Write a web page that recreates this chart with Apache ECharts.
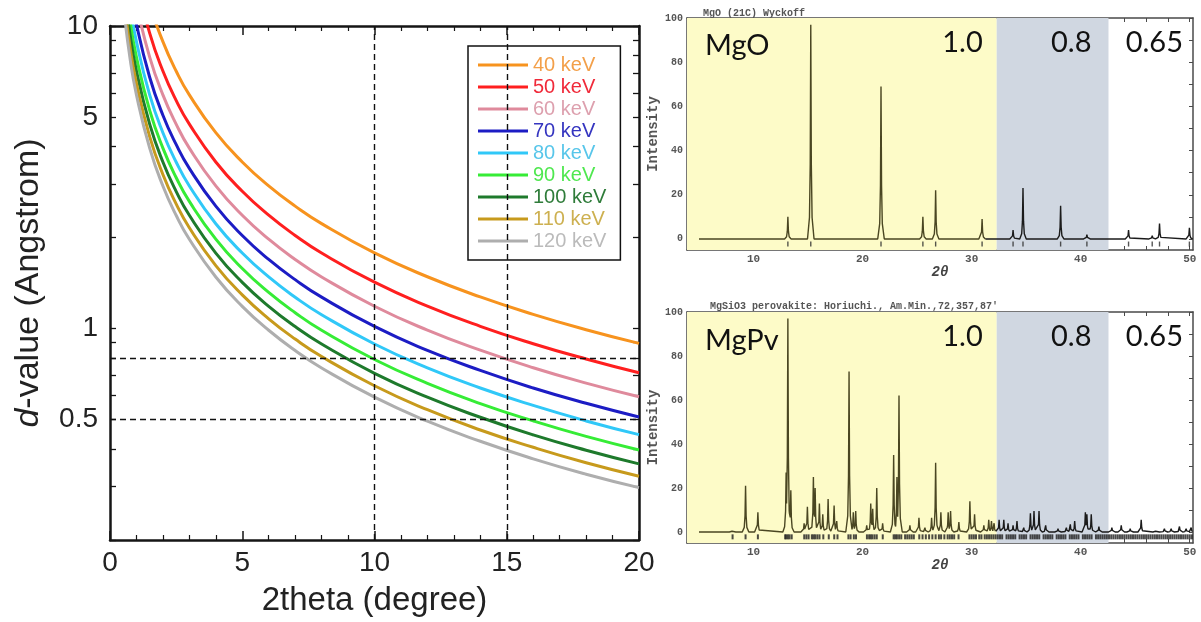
<!DOCTYPE html>
<html>
<head>
<meta charset="utf-8">
<script src="https://cdn.jsdelivr.net/npm/echarts@6/dist/echarts.min.js"></script>
<style>
  html, body { margin: 0; padding: 0; background: #ffffff; }
  #chart { width: 1201px; height: 622px; }
</style>
</head>
<body>
<div id="chart"></div>
<script>
// ---- Left panel: d-spacing vs 2theta for several beam energies ----
const twoTheta = [0.5, 0.75, 1, 1.5, 2, 2.5, 3, 4, 5, 6, 7, 8, 10, 12, 14, 16, 18, 20];
const energies = ['40 keV', '50 keV', '60 keV', '70 keV', '80 keV', '90 keV', '100 keV', '110 keV', '120 keV'];
const d40  = [35.5, 23.7, 17.76, 11.84, 8.88, 7.10, 5.92, 4.44, 3.553, 2.961, 2.539, 2.222, 1.778, 1.483, 1.272, 1.114, 0.991, 0.893];
const d50  = [28.4, 18.94, 14.21, 9.47, 7.10, 5.68, 4.74, 3.553, 2.843, 2.369, 2.031, 1.777, 1.423, 1.186, 1.017, 0.891, 0.793, 0.714];
const d60  = [23.7, 15.79, 11.84, 7.89, 5.92, 4.74, 3.947, 2.961, 2.369, 1.974, 1.692, 1.481, 1.185, 0.988, 0.848, 0.742, 0.660, 0.595];
const d70  = [20.3, 13.53, 10.15, 6.77, 5.07, 4.06, 3.383, 2.538, 2.030, 1.692, 1.451, 1.270, 1.016, 0.847, 0.727, 0.636, 0.566, 0.510];
const d80  = [17.76, 11.84, 8.88, 5.92, 4.44, 3.552, 2.960, 2.220, 1.777, 1.481, 1.269, 1.111, 0.889, 0.741, 0.636, 0.557, 0.495, 0.446];
const d90  = [15.79, 10.52, 7.89, 5.26, 3.947, 3.157, 2.631, 1.974, 1.579, 1.316, 1.128, 0.987, 0.790, 0.659, 0.565, 0.495, 0.440, 0.397];
const d100 = [14.21, 9.47, 7.10, 4.74, 3.552, 2.842, 2.368, 1.776, 1.421, 1.184, 1.015, 0.889, 0.711, 0.593, 0.509, 0.445, 0.396, 0.357];
const d110 = [12.92, 8.61, 6.46, 4.31, 3.229, 2.583, 2.153, 1.615, 1.292, 1.077, 0.923, 0.808, 0.647, 0.539, 0.462, 0.405, 0.360, 0.325];
const d120 = [11.84, 7.89, 5.92, 3.947, 2.960, 2.368, 1.973, 1.480, 1.184, 0.987, 0.846, 0.741, 0.593, 0.494, 0.424, 0.371, 0.330, 0.298];
const dSeries = [d40, d50, d60, d70, d80, d90, d100, d110, d120];
const lineColors = ['#F7931E', '#FF1F1F', '#DF8A9C', '#1C1CC4', '#30C8F8', '#36EC36', '#1E7A2C', '#C79A1C', '#AEAEAE'];
const textColors = ['#F3A04A', '#F02A3A', '#DDA0AE', '#3535C0', '#58C6EA', '#4FE84F', '#2F7C3A', '#CDB050', '#BBBBBB'];
const guideAngles = [10, 15];
const guideD = [0.8, 0.5];
const dLabels = [0.5, 1, 5, 10];
const dTicks = [0.2, 0.3, 0.4, 0.5, 0.6, 0.7, 0.8, 0.9, 1, 2, 3, 4, 5, 6, 7, 8, 9, 10];

// ---- Right panels: powder patterns ----
const mgoPos = [13.15, 15.25, 21.69, 25.53, 26.7, 30.96, 33.8, 34.71, 38.16, 40.57, 44.39, 46.56, 47.23, 49.97];
const mgoInt = [10, 97, 69, 10, 22, 9, 4, 23, 15, 2, 4, 1.5, 7, 5];

const pvPos = [8.08, 9.27, 10.40, 12.99, 13.15, 13.42, 14.64, 14.94, 15.49, 15.65, 16.04, 16.35, 16.84, 17.39, 17.63,
  18.76, 19.15, 19.37, 20.38, 20.75, 20.93, 21.30, 21.84, 22.85, 23.15, 23.34, 24.34, 25.17, 25.72, 26.33, 26.7,
  27.18, 27.85, 28.07, 28.83, 29.84, 30.27, 31.12, 31.57, 31.82, 32.06, 32.52, 32.95, 33.34, 33.8, 34.16, 34.78,
  35.39, 35.72, 36.18, 36.79, 37.92, 38.69, 39.05, 39.45, 40.43, 40.57, 40.97, 41.67, 42.86, 43.72, 44.54, 45.55,
  46.92, 47.68, 48.3, 49.06, 49.67, 50.13];
const pvInt = [1, 21, 9, 27, 97, 19, 4, 11.5, 25, 20, 13, 8, 15, 12, 5,
  73, 9, 9.5, 3, 13, 10.5, 20, 4, 35, 25, 62, 3, 6.5, 2, 6.5, 31.5,
  9, 9, 9.5, 4.5, 14, 8, 3, 5.5, 5, 4, 5.5, 5.5, 4, 3, 5, 2,
  8.5, 9.5, 9.5, 3, 1.5, 2, 3.5, 5, 9, 8, 8, 2.5, 2, 3, 1.5, 5.5,
  1, 1.5, 1.5, 2.5, 1.5, 2];
const pvRefl = [8.08, 9.27, 10.4, 12.9, 13.0, 13.15, 13.3, 13.5, 14.65, 14.85, 15.05, 15.35, 15.5, 15.65, 15.85, 16.05,
  16.4, 16.9, 17.4, 17.7, 18.7, 18.9, 19.2, 19.4, 20.4, 20.6, 20.75, 20.9, 21.1, 21.3, 21.85, 22.85, 23.0, 23.15,
  23.35, 23.55, 23.9, 24.1, 24.3, 24.5, 24.7, 25.2, 25.5, 25.8, 26.1, 26.4, 26.7, 27.0, 27.2, 27.5, 27.8, 28.0,
  28.2, 28.4, 28.8, 29.8, 30.0, 30.2, 30.4, 30.7, 30.9, 31.2, 31.4, 31.6, 31.8, 32.0, 32.2,
  32.4, 32.6, 32.8, 33.2, 33.4, 33.6, 33.8, 34.0, 34.4, 34.6, 34.8, 35.0, 35.4, 35.6, 35.8, 36.0, 36.2, 36.6,
  36.8, 37.0, 37.2, 37.4, 37.8, 38.0, 38.2, 38.4, 38.6, 39.0, 39.2, 39.4, 39.6, 39.8, 40.2, 40.4, 40.6, 40.8,
  41.0, 41.4, 41.6, 41.8, 42.0, 42.2, 42.4, 42.6, 42.8, 43.0, 43.2, 43.4, 43.6, 43.8, 44.0, 44.2, 44.4, 44.6,
  44.8, 45.0, 45.2, 45.4, 45.6, 45.8, 46.0, 46.2, 46.4, 46.6, 46.8, 47.0, 47.2, 47.4, 47.6, 47.8, 48.0, 48.2,
  48.4, 48.6, 48.8, 49.0, 49.2, 49.4, 49.6, 49.8, 50.0, 50.2];

const regionEdges = [3.9, 32.3, 42.55, 50.3];
const regionLabels = ['1.0', '0.8', '0.65'];
const regionColors = ['#FDFBC8', '#D0D7E1', 'rgba(255,255,255,0)'];
const intensityLabels = [0, 20, 40, 60, 80, 100];
const intensityTicks = [0, 10, 20, 30, 40, 50, 60, 70, 80, 90, 100];
const angleLabels = [10, 20, 30, 40, 50];
const angleTicks = [6, 8, 10, 12, 14, 16, 18, 20, 22, 24, 26, 28, 30, 32, 34, 36, 38, 40, 42, 44, 46, 48, 50];
const scanRange = [5.0, 50.3];

// Peak outline: sharp needle with a short foot (half-profile offsets, relative heights)
const peakHalf = [[0, 1], [0.05, 0.35], [0.12, 0.1], [0.3, 0]];
function peakLevel(dx, h) {
  dx = Math.abs(dx);
  for (let k = 0; k < peakHalf.length - 1; k++) {
    const a = peakHalf[k], b = peakHalf[k + 1];
    if (dx <= b[0]) return h * (a[1] + (b[1] - a[1]) * (dx - a[0]) / (b[0] - a[0]));
  }
  return 0;
}
function buildProfile(pos, inten, start, end) {
  const xs = [start, end];
  pos.forEach(p => peakHalf.forEach(s => { xs.push(p - s[0]); xs.push(p + s[0]); }));
  const uniq = Array.from(new Set(xs.map(x => +x.toFixed(3))))
    .filter(x => x >= start && x <= end).sort((a, b) => a - b);
  return uniq.map(x => {
    let y = 0;
    pos.forEach((p, i) => { y = Math.max(y, peakLevel(x - p, inten[i])); });
    return [x, +y.toFixed(3)];
  });
}

const BLACK = '#151515';
const MONO = "'Liberation Mono', 'DejaVu Sans Mono', monospace";
const SANS = "'Liberation Sans', Arial, sans-serif";
const CAPTION = "Lato, 'Open Sans', sans-serif";

function leftXAxis(pos, showLabel) {
  return {
    type: 'value', gridIndex: 0, position: pos, min: 0, max: 20, interval: 5,
    name: showLabel ? '2theta (degree)' : '', nameLocation: 'middle', nameGap: 44,
    nameTextStyle: { fontFamily: SANS, fontSize: 33, color: '#222' },
    axisLine: { show: true, onZero: false, lineStyle: { color: BLACK, width: 2.5 } },
    axisTick: { show: true, inside: true, length: 9, lineStyle: { color: BLACK, width: 1.5 } },
    minorTick: { show: true, splitNumber: 5, length: 5, lineStyle: { color: BLACK, width: 1.2 } },
    axisLabel: { show: showLabel, fontFamily: SANS, fontSize: 28, color: '#222', margin: 9 },
    splitLine: { show: false }, minorSplitLine: { show: false }
  };
}
function leftYAxis(pos, showLabel) {
  return {
    type: 'log', logBase: 10, gridIndex: 0, position: pos, min: 0.2, max: 10,
    name: showLabel ? '{i|d}-value (Angstrom)' : '', nameLocation: 'middle', nameGap: 64,
    nameTextStyle: { fontFamily: SANS, fontSize: 34, color: '#222',
      rich: { i: { fontFamily: SANS, fontSize: 34, fontStyle: 'italic', color: '#222' } } },
    axisLine: { show: true, onZero: false, lineStyle: { color: BLACK, width: 2.5 } },
    axisTick: { show: true, inside: true, length: 6, customValues: dTicks, lineStyle: { color: BLACK, width: 1.3 } },
    axisLabel: { show: showLabel, customValues: dLabels, fontFamily: SANS, fontSize: 28, color: '#222', margin: 12,
      formatter: v => String(+(+v).toPrecision(3)) },
    splitLine: { show: false }
  };
}
function patXAxis(grid, pos, showLabel) {
  return {
    type: 'value', gridIndex: grid, position: pos, min: regionEdges[0], max: regionEdges[3],
    name: showLabel ? '2θ' : '', nameLocation: 'middle', nameGap: 13,
    nameTextStyle: { fontFamily: MONO, fontSize: 14, fontStyle: 'italic', fontWeight: 'bold', color: '#444' },
    axisLine: { show: true, onZero: false, lineStyle: { color: '#4a4a4a', width: 1.5 } },
    axisTick: { show: true, inside: true, length: 4, customValues: angleTicks, lineStyle: { color: '#4a4a4a', width: 1 } },
    axisLabel: { show: showLabel, customValues: angleLabels, fontFamily: MONO, fontSize: 11, fontWeight: 'bold', color: '#555', margin: 4 },
    splitLine: { show: false }
  };
}
function patYAxis(grid, pos, showLabel) {
  return {
    type: 'value', gridIndex: grid, position: pos, min: -5, max: 100,
    name: showLabel ? 'Intensity' : '', nameLocation: 'middle', nameGap: 27,
    nameTextStyle: { fontFamily: MONO, fontSize: 14, fontWeight: 'bold', color: '#555' },
    axisLine: { show: true, onZero: false, lineStyle: { color: '#4a4a4a', width: 1.5 } },
    axisTick: { show: true, inside: true, length: 4, customValues: intensityTicks, lineStyle: { color: '#4a4a4a', width: 1 } },
    axisLabel: { show: showLabel, customValues: intensityLabels, fontFamily: MONO, fontSize: 10, fontWeight: 'bold', color: '#555', margin: 4 },
    splitLine: { show: false }
  };
}
function regionAreas() {
  const insets = [14, 17, 10];
  return regionLabels.map((lab, i) => [
    { name: lab, xAxis: regionEdges[i], itemStyle: { color: regionColors[i] },
      label: { show: true, position: 'insideTopRight', distance: 0, offset: [-insets[i], 10],
        fontFamily: CAPTION, fontSize: 29, color: '#111' } },
    { xAxis: regionEdges[i + 1] }
  ]);
}
// One pattern drawn as two pieces: olive inside the yellow band, near-black beyond it
function patternSeries(name, axisIdx, pos, inten) {
  const split = regionEdges[1];
  const full = buildProfile(pos, inten, scanRange[0], scanRange[1]);
  const left = full.filter(p => p[0] <= split);
  const right = full.filter(p => p[0] >= split);
  if (right.length && right[0][0] > split) right.unshift(left[left.length - 1]);
  return [
    { name: name, type: 'line', xAxisIndex: axisIdx, yAxisIndex: axisIdx, data: left,
      symbol: 'none', lineStyle: { width: 1.4, color: '#4a4622' }, z: 3,
      markArea: { silent: true, data: regionAreas() } },
    { name: name + ' ', type: 'line', xAxisIndex: axisIdx, yAxisIndex: axisIdx, data: right,
      symbol: 'none', lineStyle: { width: 1.4, color: '#1b1b1b' }, z: 3 }
  ];
}

const leftSeries = energies.map((name, i) => ({
  name, type: 'line', xAxisIndex: 0, yAxisIndex: 0,
  data: twoTheta.map((t, k) => [t, dSeries[i][k]]),
  showSymbol: false, symbol: 'none', smooth: 0.5, clip: true,
  lineStyle: { color: lineColors[i], width: 3 }, itemStyle: { color: lineColors[i] },
  z: 3,
  markLine: i === 0 ? {
    silent: true, symbol: 'none', label: { show: false }, animation: false,
    lineStyle: { color: '#111', width: 1.4, type: [6, 4] },
    data: guideAngles.map(v => ({ xAxis: v })).concat(guideD.map(v => ({ yAxis: v })))
  } : undefined
}));

const option = {
  animation: false,
  backgroundColor: '#ffffff',
  title: [
    { text: 'MgO (21C) Wyckoff', left: 698, top: 3, textStyle: { fontFamily: MONO, fontSize: 10, fontWeight: 'bold', color: '#555' } },
    { text: "MgSiO3 perovakite: Horiuchi., Am.Min.,72,357,87'", left: 705, top: 296, textStyle: { fontFamily: MONO, fontSize: 10, fontWeight: 'bold', color: '#555' } },
    { text: 'MgO', left: 700, top: 26, textStyle: { fontFamily: CAPTION, fontSize: 29, fontWeight: 'normal', color: '#111' } },
    { text: 'MgPv', left: 700, top: 321, textStyle: { fontFamily: CAPTION, fontSize: 29, fontWeight: 'normal', color: '#111' } }
  ],
  legend: {
    orient: 'vertical', left: 468, top: 46, selectedMode: false,
    icon: 'rect', itemWidth: 50, itemHeight: 3, itemGap: 2,
    padding: [9, 14, 9, 10],
    backgroundColor: '#ffffff', borderColor: '#111', borderWidth: 1.5,
    textStyle: { fontFamily: SANS, fontSize: 20, lineHeight: 20 },
    data: energies.map((n, i) => ({ name: n, itemStyle: { color: lineColors[i] }, textStyle: { color: textColors[i] } }))
  },
  grid: [
    { left: 110, top: 26, width: 529, height: 514, containLabel: false },
    { left: 687, top: 18, width: 506, height: 232, containLabel: false },
    { left: 687, top: 312, width: 506, height: 231, containLabel: false }
  ],
  xAxis: [
    leftXAxis('bottom', true), leftXAxis('top', false),
    patXAxis(1, 'bottom', true), patXAxis(1, 'top', false),
    patXAxis(2, 'bottom', true), patXAxis(2, 'top', false)
  ],
  yAxis: [
    leftYAxis('left', true), leftYAxis('right', false),
    patYAxis(1, 'left', true), patYAxis(1, 'right', false),
    patYAxis(2, 'left', true), patYAxis(2, 'right', false)
  ],
  series: leftSeries
    .concat(patternSeries('MgO', 2, mgoPos, mgoInt))
    .concat(patternSeries('MgPv', 4, pvPos, pvInt))
    .concat([
      {
        name: 'MgO reflections', type: 'scatter', xAxisIndex: 2, yAxisIndex: 2,
        data: mgoPos.map(p => [p, -2.3]), symbol: 'rect', symbolSize: [1.4, 5],
        itemStyle: { color: '#2a2a2a' }, silent: true, z: 4
      },
      {
        name: 'MgPv reflections', type: 'scatter', xAxisIndex: 4, yAxisIndex: 4,
        data: pvRefl.map(p => [p, -2.2]), symbol: 'rect', symbolSize: [2, 5],
        itemStyle: { color: '#1e1e1e' }, silent: true, z: 4
      }
    ])
};

const chart = echarts.init(document.getElementById('chart'), null, { renderer: 'canvas' });
chart.setOption(option);
</script>
</body>
</html>
